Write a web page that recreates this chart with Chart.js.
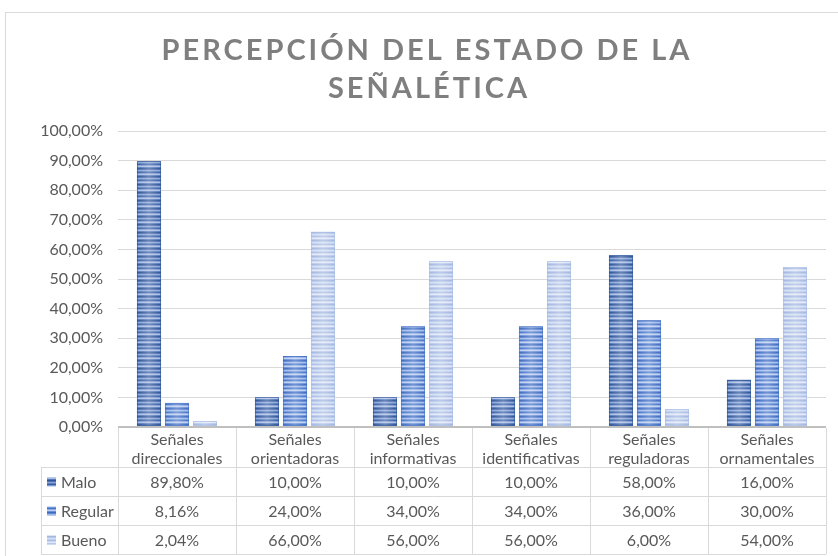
<!DOCTYPE html>
<html>
<head>
<meta charset="utf-8">
<script src="https://cdn.jsdelivr.net/npm/chart.js@4.4.0/dist/chart.umd.min.js"></script>
<style>
  html, body { margin: 0; background: #fff; }
  #wrap { width: 838px; height: 556px; position: relative; }
</style>
</head>
<body>
<div id="wrap"><canvas id="chart"></canvas></div>
<script>
/* ================= DATA ================= */
const TITLE_LINES = ["PERCEPCIÓN DEL ESTADO DE LA", "SEÑALÉTICA"];
const CATEGORIES = [
  ["Señales", "direccionales"],
  ["Señales", "orientadoras"],
  ["Señales", "informativas"],
  ["Señales", "identificativas"],
  ["Señales", "reguladoras"],
  ["Señales", "ornamentales"]
];
const SERIES_NAMES = ["Malo", "Regular", "Bueno"];
const MALO = [89.80, 10.00, 10.00, 10.00, 58.00, 16.00];
const REGULAR = [8.16, 24.00, 34.00, 34.00, 36.00, 30.00];
const BUENO = [2.04, 66.00, 56.00, 56.00, 6.00, 54.00];

/* ================= STYLE ================= */
const TEXT = "#595959";
const LINE = "#d9d9d9";
const AXIS = "#bfbfbf";
const FONT = "Lato, 'Open Sans', sans-serif";
const EDGES = ["#2f5597", "#4472c4", "#a9bde3"];

// horizontal striped fills for each series
function stripes(colors) {
  const c = document.createElement("canvas");
  c.width = 1;
  c.height = colors.length;
  const g = c.getContext("2d");
  colors.forEach((col, i) => { g.fillStyle = col; g.fillRect(0, i, 1, 1); });
  return g.createPattern(c, "repeat");
}

const FILLS = [
  stripes(["#2f5597", "#4c71b4", "#8aa4d6", "#5b7fbf", "#3a60a3", "#7d99cf", "#a9bde3", "#5579bb"]),
  stripes(["#3d6bc2", "#5f86d2", "#a2bbea", "#7197da", "#4774c8", "#8eacE4", "#bccdf0", "#6a90d6"]),
  stripes(["#a3b7e0", "#b6c7ea", "#d3ddf2", "#c0cfee", "#a9bce3", "#ccd8f1", "#dfe6f6", "#b9c9eb"])
];

function pct(v) {
  return v.toFixed(2).replace(".", ",") + "%";
}

/* ================= PLUGINS ================= */
const frameAndTitle = {
  id: "frameAndTitle",
  beforeDraw(chart) {
    const ctx = chart.ctx;
    ctx.save();
    ctx.strokeStyle = LINE;
    ctx.lineWidth = 1;
    ctx.strokeRect(5.5, 12.5, 900, 600);

    ctx.fillStyle = "#7f7f7f";
    ctx.font = "bold 29px " + FONT;
    ctx.letterSpacing = "3px";
    ctx.textAlign = "center";
    ctx.textBaseline = "alphabetic";
    ctx.fillText(TITLE_LINES[0], 427, 60);
    ctx.fillText(TITLE_LINES[1], 429, 98);
    ctx.restore();
  }
};

// soft sheen across each bar plus a thin outline
const barSheen = {
  id: "barSheen",
  afterDatasetsDraw(chart) {
    const ctx = chart.ctx;
    ctx.save();
    chart.data.datasets.forEach((ds, di) => {
      chart.getDatasetMeta(di).data.forEach(bar => {
        const left = bar.x - bar.width / 2;
        const top = bar.y;
        const h = bar.base - bar.y;
        const g = ctx.createLinearGradient(left, 0, left + bar.width, 0);
        g.addColorStop(0, "rgba(255,255,255,0)");
        g.addColorStop(0.5, "rgba(255,255,255,0.28)");
        g.addColorStop(1, "rgba(255,255,255,0)");
        ctx.fillStyle = g;
        ctx.fillRect(left, top, bar.width, h);
        ctx.strokeStyle = EDGES[di];
        ctx.globalAlpha = 0.6;
        ctx.lineWidth = 1;
        ctx.strokeRect(Math.round(left) + 0.5, Math.round(top) + 0.5, Math.round(bar.width) - 1, Math.round(h) - 1);
        ctx.globalAlpha = 1;
      });
    });
    ctx.restore();
  }
};

// data table under the x axis, columns follow the category scale
const dataTable = {
  id: "dataTable",
  afterDraw(chart) {
    const ctx = chart.ctx;
    const area = chart.chartArea;
    const x = chart.scales.x;
    const n = CATEGORIES.length;
    const colW = area.width / n;
    const headBottom = area.bottom + 40;
    const rowH = 29;
    const tableLeft = 41;
    const rows = [MALO, REGULAR, BUENO];
    const bottom = headBottom + rowH * rows.length;

    ctx.save();
    ctx.strokeStyle = LINE;
    ctx.lineWidth = 1;
    ctx.beginPath();
    for (let i = 0; i <= n; i++) {
      const xx = Math.round(area.left + i * colW) + 0.5;
      ctx.moveTo(xx, area.bottom + 1);
      ctx.lineTo(xx, bottom);
    }
    ctx.moveTo(tableLeft + 0.5, headBottom);
    ctx.lineTo(tableLeft + 0.5, bottom);
    for (let r = 0; r <= rows.length; r++) {
      const yy = Math.round(headBottom + r * rowH) + 0.5;
      ctx.moveTo(tableLeft, yy);
      ctx.lineTo(area.right, yy);
    }
    ctx.stroke();

    ctx.font = "16px " + FONT;
    ctx.textBaseline = "middle";
    rows.forEach((vals, r) => {
      const cy = headBottom + r * rowH + rowH / 2 + 1;
      ctx.fillStyle = FILLS[r];
      ctx.fillRect(47, cy - 5, 9, 9);
      ctx.fillStyle = TEXT;
      ctx.textAlign = "left";
      ctx.fillText(SERIES_NAMES[r], 61, cy);
      ctx.textAlign = "center";
      vals.forEach((v, i) => ctx.fillText(pct(v), x.getPixelForValue(i), cy));
    });
    ctx.restore();
  }
};

/* ================= CHART ================= */
new Chart(document.getElementById("chart"), {
  type: "bar",
  data: {
    labels: CATEGORIES,
    datasets: [MALO, REGULAR, BUENO].map((data, i) => ({
      label: SERIES_NAMES[i],
      data,
      backgroundColor: FILLS[i],
      borderWidth: 0,
      categoryPercentage: 0.712,
      barPercentage: 0.86
    }))
  },
  options: {
    responsive: true,
    maintainAspectRatio: false,
    animation: false,
    layout: { padding: { top: 131, right: 12, bottom: 89, left: 0 } },
    plugins: {
      legend: { display: false },
      title: { display: false },
      tooltip: { enabled: false }
    },
    scales: {
      x: {
        afterFit(scale) { scale.height = 40; },
        grid: { display: false, drawTicks: false },
        border: { display: false },
        ticks: {
          color: TEXT,
          font: { family: FONT, size: 16, lineHeight: 1.15 },
          padding: 4,
          maxRotation: 0,
          autoSkip: false
        }
      },
      y: {
        min: 0,
        max: 100,
        afterFit(scale) { scale.width = 118; },
        grid: {
          color: c => (c.tick && c.tick.value === 0 ? AXIS : LINE),
          lineWidth: c => (c.tick && c.tick.value === 0 ? 2 : 1),
          drawTicks: false
        },
        border: { display: false },
        ticks: {
          stepSize: 10,
          color: TEXT,
          font: { family: FONT, size: 16 },
          padding: 15,
          callback: v => pct(v)
        }
      }
    }
  },
  plugins: [frameAndTitle, barSheen, dataTable]
});
</script>
</body>
</html>
